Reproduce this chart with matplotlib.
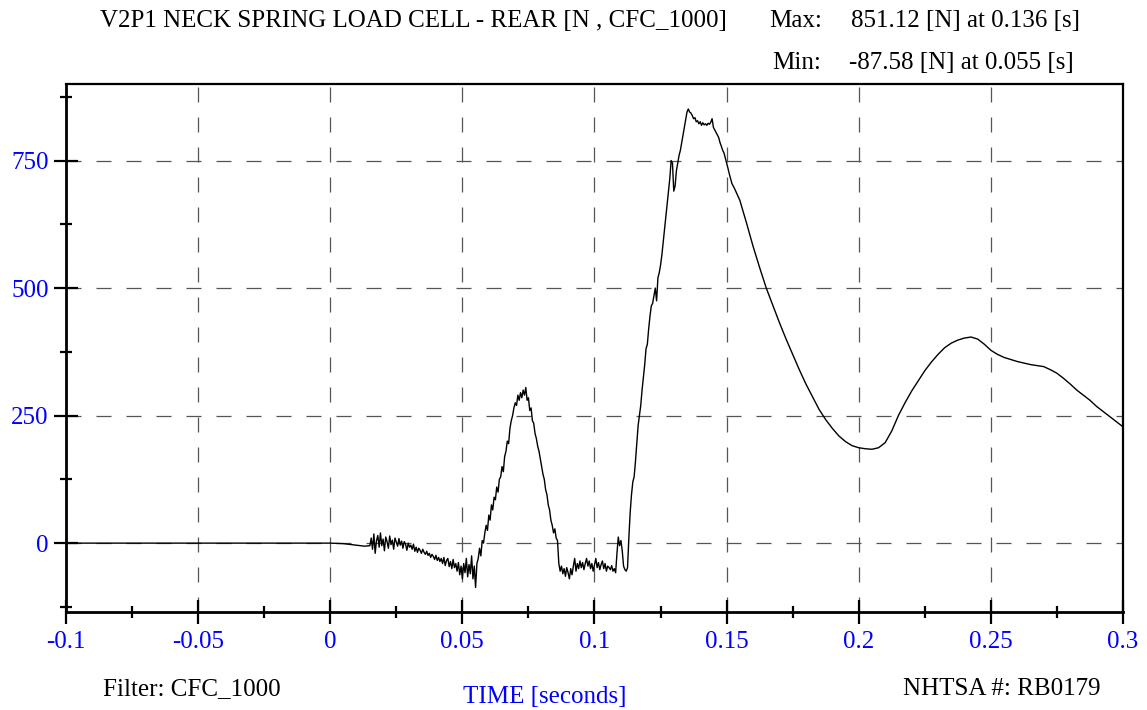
import numpy as np
import matplotlib.pyplot as plt
from matplotlib.ticker import MultipleLocator, FixedLocator

plt.rcParams['font.family'] = ['Liberation Serif', 'DejaVu Serif']

# time [s] and force [N]
time_s = [
    -0.1, 0.0, 0.005, 0.010, 0.013, 0.015,
    0.0155, 0.016, 0.0165, 0.017, 0.0175, 0.018, 0.0185, 0.019, 0.0195, 0.020,
    0.0205, 0.021, 0.0215, 0.022, 0.0225, 0.023, 0.0235, 0.024, 0.0245, 0.025,
    0.0255, 0.026, 0.0265, 0.027, 0.0275, 0.028, 0.0285, 0.029, 0.0295, 0.030,
    0.0305,
    0.031, 0.0315, 0.032, 0.0325, 0.033, 0.0335, 0.034, 0.0345, 0.035, 0.0355,
    0.036, 0.0365, 0.037, 0.0375, 0.038, 0.0385, 0.039, 0.0395, 0.040, 0.0405,
    0.041, 0.0415, 0.042, 0.0425, 0.043, 0.0435, 0.044, 0.0445, 0.045, 0.0455,
    0.046, 0.0465, 0.047, 0.0475, 0.048, 0.0485, 0.049, 0.0495, 0.050, 0.0505,
    0.051, 0.0515, 0.052, 0.0525, 0.053, 0.0535, 0.054, 0.0545, 0.055, 0.0555,
    0.056, 0.0565, 0.057, 0.0575, 0.058, 0.0585, 0.059, 0.0595, 0.060, 0.0605,
    0.061, 0.0615, 0.062, 0.0625, 0.063, 0.0635, 0.064, 0.0645, 0.065, 0.0655,
    0.066, 0.0665, 0.067, 0.0675, 0.068, 0.0685, 0.069, 0.0695, 0.070, 0.0705,
    0.071, 0.0715, 0.072, 0.0725, 0.073, 0.0735, 0.074, 0.0745, 0.075, 0.0755,
    0.076, 0.0765, 0.077, 0.0775, 0.078, 0.0785, 0.079, 0.0795, 0.080, 0.0805,
    0.081, 0.0815, 0.082, 0.0825, 0.083, 0.0835, 0.084, 0.0845, 0.085, 0.0855,
    0.086, 0.0865, 0.087, 0.0875, 0.088, 0.0885, 0.089, 0.0895, 0.090, 0.0905,
    0.091, 0.0915, 0.092, 0.0925, 0.093, 0.0935, 0.094, 0.0945, 0.095, 0.0955,
    0.096, 0.0965, 0.097, 0.0975, 0.098, 0.0985, 0.099, 0.0995, 0.100, 0.1005,
    0.101, 0.1015, 0.102, 0.1025, 0.103, 0.1035, 0.104, 0.1045, 0.105, 0.1055,
    0.106, 0.1065, 0.107, 0.1075, 0.108, 0.1085, 0.109, 0.1095, 0.110, 0.1105,
    0.111, 0.1115, 0.112, 0.1125, 0.113, 0.1135, 0.114, 0.1145, 0.115, 0.1155,
    0.116, 0.1165, 0.117, 0.1175, 0.118, 0.1185, 0.119, 0.1195, 0.120, 0.1205,
    0.121, 0.1215, 0.122, 0.1225, 0.123, 0.1235, 0.124, 0.1245, 0.125, 0.1255,
    0.126, 0.1265, 0.127, 0.1275, 0.128, 0.1285, 0.129, 0.1295, 0.130, 0.1305,
    0.131, 0.1315, 0.132, 0.1325, 0.133, 0.1335, 0.134, 0.1345, 0.135, 0.1355,
    0.136, 0.1365, 0.137, 0.1375, 0.138, 0.1385, 0.139, 0.1395, 0.140, 0.1405,
    0.141, 0.1415, 0.142, 0.1425, 0.143, 0.1435, 0.144, 0.1445, 0.145, 0.1455,
    0.146, 0.1465, 0.147, 0.1475, 0.148, 0.1485, 0.149, 0.1495, 0.150, 0.1505,
    0.151, 0.152, 0.153, 0.155, 0.1575, 0.160, 0.1625, 0.165, 0.1675, 0.170,
    0.1725, 0.175, 0.1775, 0.180, 0.1825, 0.185, 0.1875, 0.190, 0.1925, 0.195,
    0.1975, 0.200, 0.2025, 0.205, 0.2075, 0.210, 0.2125, 0.215, 0.2175, 0.220,
    0.2225, 0.225, 0.2275, 0.230, 0.2325, 0.235, 0.2375, 0.240, 0.2425, 0.245,
    0.2475, 0.250, 0.2525, 0.255, 0.2575, 0.260, 0.2625, 0.265, 0.2675, 0.270,
    0.2725, 0.275, 0.2775, 0.280, 0.2825, 0.285, 0.2875, 0.290, 0.2925, 0.295,
    0.2975, 0.300,
]
force_n = [
    0, 0, -1, -4, -6, -5,
    10, -12, 18, -20, 5, 15, -8, 20, -5, 8,
    -15, 12, 3, -10, 14, -3, 6, -12, 10, 2,
    -6, 9, -4, 4, -10, 3, -2, -14, 0, -8,
    -4,
    -12, -2, -16, -8, -18, -10, -14, -20, -12, -18,
    -22, -16, -24, -20, -28, -22, -26, -32, -24, -34,
    -28, -36, -30, -40, -28, -44, -34, -30, -46, -36,
    -50, -32, -48, -40, -55, -38, -62, -45, -70, -40,
    -58, -30, -66, -42, -60, -25, -70, -45, -87, -40,
    -30, -10, -25, 5, 0, 20, 35, 25, 55, 45,
    75, 65, 90, 85, 110, 100, 125, 130, 150, 140,
    170, 180, 200, 195, 225, 240, 250, 265, 275, 270,
    290, 280, 295, 285, 300, 290, 305, 280, 285, 260,
    265, 240, 235, 215, 205, 190, 180, 165, 150, 135,
    125, 105, 95, 75, 65, 45, 35, 20, 28, 10,
    5, -40, -55, -45, -60, -50, -65, -48, -58, -70,
    -50, -62, -45, -30, -55, -40, -50, -35, -48, -38,
    -52, -40, -30, -45, -35, -50, -40, -55, -42, -30,
    -48, -38, -52, -42, -35, -50, -40, -55, -45, -48,
    -52, -44, -55, -50, -58, -20, 12, -5, 5, -15,
    -45, -52, -55, -48, 10, 60, 95, 120, 130, 160,
    195, 230, 250, 270, 300, 325, 350, 381, 390, 420,
    445, 465, 470, 485, 500, 475, 520, 530, 545, 565,
    590, 615, 640, 665, 690, 715, 750, 745, 690, 700,
    730, 745, 760, 770, 785, 800, 815, 830, 845, 851,
    845, 843, 838, 832, 834, 826, 828, 822, 826, 819,
    824, 820, 822, 819, 823, 821, 825, 832, 815, 810,
    805, 800, 795, 785, 778, 770, 765, 755, 745, 735,
    724, 705, 695, 672, 628, 582, 540, 500, 466, 432,
    400, 370, 340, 312, 287, 262, 242, 225, 210, 199,
    191, 187, 185, 184, 187, 197, 220, 250, 275, 298,
    318, 338, 355, 370, 383, 392, 398, 402, 404, 400,
    390, 378, 370, 364, 360, 356, 353, 350, 348, 346,
    340, 333, 323, 312, 300, 290, 280, 268, 258, 248,
    238, 228,
]

x_major = [-0.1, -0.05, 0, 0.05, 0.1, 0.15, 0.2, 0.25, 0.3]
x_labels = ['-0.1', '-0.05', '0', '0.05', '0.1', '0.15', '0.2', '0.25', '0.3']
y_major = [0, 250, 500, 750]
y_minor = [-125, 125, 375, 625, 875]

title = 'V2P1 NECK SPRING LOAD CELL - REAR [N , CFC_1000]'
max_text = '851.12 [N] at 0.136 [s]'
min_text = '-87.58 [N] at 0.055 [s]'

W, H = 1147, 710
fig = plt.figure(figsize=(W / 100, H / 100), dpi=100)
ax = fig.add_axes([66 / W, 1 - 612 / H, (1123 - 66) / W, (612 - 84) / H])

ax.plot(time_s, force_n, color='black', lw=1.0)
ax.set_xlim(-0.1, 0.3)
ax.set_ylim(-135, 900)

ax.xaxis.set_major_locator(FixedLocator(x_major))
ax.set_xticklabels(x_labels)
ax.xaxis.set_minor_locator(MultipleLocator(0.025))
ax.yaxis.set_major_locator(FixedLocator(y_major))
ax.yaxis.set_minor_locator(FixedLocator(y_minor))

ax.tick_params(which='major', direction='inout', length=17, width=1.6,
               labelsize=18, labelcolor='#0000ff', pad=4)
ax.tick_params(which='minor', direction='inout', length=8, width=1.6)
ax.tick_params(axis='x', which='major', pad=5)

for s in ['left', 'bottom']:
    ax.spines[s].set_linewidth(2.0)
for s in ['top', 'right']:
    ax.spines[s].set_linewidth(1.6)

ax.grid(True, which='major', color='#555555', lw=0.9, linestyle=(0, (12, 12)))

fs = 18
fig.text(100 / W, 1 - 27 / H, title, fontsize=fs, ha='left', va='baseline')
fig.text(769 / W, 1 - 27 / H, 'Max:', fontsize=fs, ha='left', va='baseline')
fig.text(851 / W, 1 - 27 / H, max_text, fontsize=fs, ha='left', va='baseline')
fig.text(772 / W, 1 - 69 / H, 'Min:', fontsize=fs, ha='left', va='baseline')
fig.text(849 / W, 1 - 69 / H, min_text, fontsize=fs, ha='left', va='baseline')

fig.text(103 / W, 1 - 695 / H, 'Filter: CFC_1000', fontsize=fs, ha='left', va='baseline')
fig.text(545 / W, 1 - 703 / H, 'TIME [seconds]', fontsize=fs, color='#0000ff',
         ha='center', va='baseline')
fig.text(903 / W, 1 - 695 / H, 'NHTSA #: RB0179', fontsize=fs, ha='left', va='baseline')

fig.savefig('out.png', dpi=100)
